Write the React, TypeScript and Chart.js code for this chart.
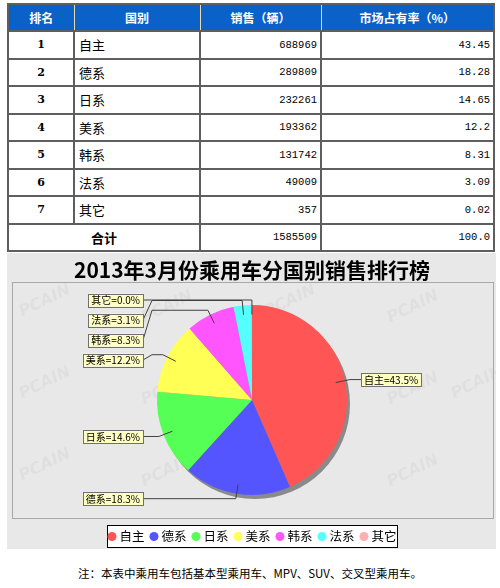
import React, { useEffect, useRef } from "react";
import { Chart, registerables } from "chart.js";

Chart.register(...registerables);

// ---------- data ----------
const headers = ["排名", "国别", "销售（辆）", "市场占有率（%）"];
const ranks = ["1", "2", "3", "4", "5", "6", "7"];
const categories = ["自主", "德系", "日系", "美系", "韩系", "法系", "其它"];
const sales = [688969, 289809, 232261, 193362, 131742, 49009, 357];
const shares = ["43.45", "18.28", "14.65", "12.2", "8.31", "3.09", "0.02"];
const totalLabel = "合计";
const totalSales = "1585509";
const totalShare = "100.0";
const colors = ["#FF5555", "#5555FF", "#55FF55", "#FFFF55", "#FF55FF", "#55FFFF", "#FFAFAF"];
const chartTitle = "2013年3月份乘用车分国别销售排行榜";
const note = "注：本表中乘用车包括基本型乘用车、MPV、SUV、交叉型乘用车。";

const CJK = "'Noto Sans CJK SC', 'Noto Sans', sans-serif";

const panelPlugin = {
  id: "panelPlugin",
  beforeDraw(chart: any) {
    const ctx = chart.ctx as CanvasRenderingContext2D;
    const w = chart.width;
    const h = chart.height;
    ctx.save();
    ctx.fillStyle = "#E8E8E8";
    ctx.fillRect(0, 0, w, h);
    // faint watermark
    ctx.fillStyle = "rgba(0,0,0,0.035)";
    ctx.font = `italic bold 16px 'DejaVu Sans', sans-serif`;
    ctx.textAlign = "center";
    ctx.textBaseline = "middle";
    const cols = [38, 160, 283, 406, 470];
    const rows = [48, 130, 212];
    rows.forEach((ry, ri) => {
      cols.forEach((cx, ci) => {
        if (ci === 4 && ri !== 1) return;
        ctx.save();
        ctx.translate(cx, ry + (ci % 2) * 6);
        ctx.rotate(-0.45);
        ctx.fillText("PCAIN", 0, 0);
        ctx.restore();
      });
    });
    // plot border
    ctx.strokeStyle = "#A8A8A8";
    ctx.lineWidth = 1;
    ctx.strokeRect(5.5, 29.5, 481, 236);
    // title
    ctx.fillStyle = "#000";
    ctx.font = `bold 21px ${CJK}`;
    ctx.textAlign = "center";
    ctx.textBaseline = "middle";
    ctx.fillText(chartTitle, 245, 17);
    ctx.restore();
  },
  beforeDatasetsDraw(chart: any) {
    const meta = chart.getDatasetMeta(0);
    const arc = meta.data[0];
    if (!arc) return;
    const ctx = chart.ctx as CanvasRenderingContext2D;
    ctx.save();
    ctx.fillStyle = "#8A8A8A";
    ctx.beginPath();
    ctx.arc(arc.x + 3, arc.y + 4, arc.outerRadius, 0, Math.PI * 2);
    ctx.fill();
    ctx.restore();
  },
  afterDatasetsDraw(chart: any) {
    const ctx = chart.ctx as CanvasRenderingContext2D;
    const meta = chart.getDatasetMeta(0);
    const data = chart.data.datasets[0].data as number[];
    const labels = chart.data.labels as string[];
    const total = data.reduce((a, b) => a + b, 0);
    type Rec = { i: number; linkX: number; linkY: number; elbowX: number; elbowY: number; left: boolean; y: number; text: string };
    const recs: Rec[] = [];
    meta.data.forEach((arc: any, i: number) => {
      const r = arc.outerRadius;
      const mid = (arc.startAngle + arc.endAngle) / 2;
      const c = Math.cos(mid);
      const s = Math.sin(mid);
      const left = c < 0;
      recs.push({
        i,
        linkX: arc.x + c * r * 0.9,
        linkY: arc.y + s * r * 0.9,
        elbowX: arc.x + c * (r + 5),
        elbowY: arc.y + s * (r + 5),
        left,
        y: arc.y + s * (r + 5),
        text: `${labels[i]}=${((data[i] / total) * 100).toFixed(1)}%`,
      });
    });
    const arc0 = meta.data[0];
    const cx = arc0.x;
    const rr = arc0.outerRadius + 5;
    const spacing = 20;
    [true, false].forEach((side) => {
      const list = recs.filter((r) => r.left === side).sort((a, b) => a.elbowY - b.elbowY);
      let prev = -Infinity;
      list.forEach((r) => {
        r.y = Math.max(r.elbowY, prev + spacing);
        prev = r.y;
      });
    });
    ctx.save();
    ctx.font = `10px ${CJK}`;
    ctx.textBaseline = "middle";
    const gap = 9;
    recs.forEach((r) => {
      const anchorX = r.left ? cx - rr : cx + rr;
      const targetX = r.left ? anchorX - gap : anchorX + gap;
      ctx.strokeStyle = "#404040";
      ctx.lineWidth = 1;
      ctx.beginPath();
      ctx.moveTo(r.linkX, r.linkY);
      ctx.lineTo(r.elbowX, r.elbowY);
      ctx.lineTo(anchorX, r.elbowY);
      ctx.lineTo(targetX, r.y);
      ctx.stroke();
      const tw = ctx.measureText(r.text).width;
      const bw = tw + 6;
      const bh = 13;
      const bx = r.left ? targetX - bw : targetX;
      const by = r.y - bh / 2;
      ctx.fillStyle = "#FFFFC4";
      ctx.fillRect(bx, by, bw, bh);
      ctx.strokeStyle = "#707070";
      ctx.strokeRect(Math.round(bx) + 0.5, Math.round(by) + 0.5, Math.round(bw), bh);
      ctx.fillStyle = "#000";
      ctx.textAlign = "left";
      ctx.fillText(r.text, bx + 3, r.y + 0.5);
    });
    ctx.restore();
  },
  afterDraw(chart: any) {
    const ctx = chart.ctx as CanvasRenderingContext2D;
    const labels = chart.data.labels as string[];
    const bg = chart.data.datasets[0].backgroundColor as string[];
    const box = { x: 100, y: 272, w: 290, h: 22 };
    ctx.save();
    ctx.fillStyle = "#FFFFFF";
    ctx.fillRect(box.x, box.y, box.w, box.h);
    ctx.strokeStyle = "#000";
    ctx.lineWidth = 1;
    ctx.strokeRect(box.x + 0.5, box.y + 0.5, box.w, box.h);
    ctx.font = `12.5px ${CJK}`;
    ctx.textBaseline = "middle";
    ctx.textAlign = "left";
    const markerW = 9;
    const markerGap = 3;
    const itemGap = 5;
    const widths = labels.map((l) => ctx.measureText(l).width);
    const totalW = widths.reduce((a, w) => a + markerW + markerGap + w, 0) + itemGap * (labels.length - 1);
    let x = box.x + (box.w - totalW) / 2;
    const cy = box.y + box.h / 2 + 0.5;
    labels.forEach((l, i) => {
      ctx.fillStyle = bg[i];
      ctx.beginPath();
      ctx.arc(x + markerW / 2, cy, markerW / 2, 0, Math.PI * 2);
      ctx.fill();
      ctx.fillStyle = "#000";
      ctx.fillText(l, x + markerW + markerGap, cy);
      x += markerW + markerGap + widths[i] + itemGap;
    });
    ctx.restore();
  },
};

function PieChart() {
  const ref = useRef<HTMLCanvasElement | null>(null);
  useEffect(() => {
    if (!ref.current) return;
    const chart = new Chart(ref.current, {
      type: "pie",
      data: {
        labels: categories,
        datasets: [
          {
            data: sales,
            backgroundColor: colors,
            borderWidth: 0,
          },
        ],
      },
      options: {
        responsive: false,
        animation: false,
        layout: { padding: { left: 150, top: 52, right: 149, bottom: 54 } },
        plugins: {
          legend: { display: false },
          title: { display: false },
          tooltip: { enabled: false },
        },
      },
      plugins: [panelPlugin],
    });
    return () => chart.destroy();
  }, []);
  return (
    <canvas
      ref={ref}
      width={489}
      height={296}
      style={{ position: "absolute", left: 7, top: 253, width: 489, height: 296 }}
    />
  );
}

const border = "2px solid #5E5E5E";

export default function App() {
  useEffect(() => {
    document.body.style.margin = "0";
  }, []);
  const th: React.CSSProperties = {
    background: "#0A62C9",
    color: "#fff",
    fontWeight: "bold",
    fontSize: 12,
    textAlign: "center",
    border: border,
    borderLeft: "1px solid #E8D8B0",
    borderRight: "1px solid #E8D8B0",
    padding: 0,
    fontFamily: CJK,
  };
  const td: React.CSSProperties = { border: border, padding: "0 4px", background: "#fff" };
  const num: React.CSSProperties = {
    ...td,
    textAlign: "right",
    fontFamily: "'Liberation Mono', 'DejaVu Sans Mono', monospace",
    fontSize: 10.5,
    paddingRight: 3,
  };
  return (
    <div style={{ position: "relative", width: 500, height: 588, background: "#fff", fontFamily: CJK }}>
      <table
        style={{
          position: "absolute",
          left: 7,
          top: 3,
          width: 486,
          borderCollapse: "collapse",
          tableLayout: "fixed",
          border: border,
        }}
      >
        <colgroup>
          <col style={{ width: 66 }} />
          <col style={{ width: 126 }} />
          <col style={{ width: 121 }} />
          <col style={{ width: 173 }} />
        </colgroup>
        <thead>
          <tr style={{ height: 27 }}>
            {headers.map((h) => (
              <th key={h} style={th}>
                {h}
              </th>
            ))}
          </tr>
        </thead>
        <tbody>
          {categories.map((c, i) => (
            <tr key={c} style={{ height: 27.5 }}>
              <td style={{ ...td, textAlign: "center", fontWeight: "bold", fontSize: 11, fontFamily: "'DejaVu Serif', serif" }}>
                {ranks[i]}
              </td>
              <td style={{ ...td, fontSize: 13 }}>{c}</td>
              <td style={num}>{sales[i]}</td>
              <td style={num}>{shares[i]}</td>
            </tr>
          ))}
          <tr style={{ height: 27.5 }}>
            <td colSpan={2} style={{ ...td, textAlign: "center", fontWeight: "bold", fontSize: 13 }}>
              {totalLabel}
            </td>
            <td style={num}>{totalSales}</td>
            <td style={num}>{totalShare}</td>
          </tr>
        </tbody>
      </table>
      <PieChart />
      <div
        style={{
          position: "absolute",
          left: 0,
          top: 564,
          width: 500,
          textAlign: "center",
          fontSize: 11.5,
          color: "#000",
          fontFamily: CJK,
          lineHeight: "18px",
        }}
      >
        {note}
      </div>
    </div>
  );
}
